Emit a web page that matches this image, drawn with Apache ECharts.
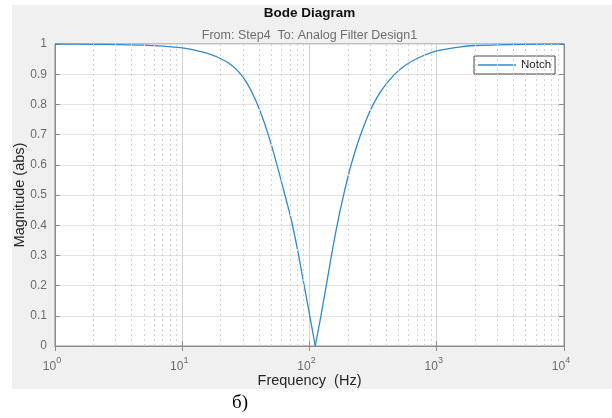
<!DOCTYPE html>
<html>
<head>
<meta charset="utf-8">
<script src="https://cdn.jsdelivr.net/npm/echarts@6/dist/echarts.min.js"></script>
<style>
html,body{margin:0;padding:0;background:#ffffff;}
#chart{width:612px;height:418px;}
</style>
</head>
<body>
<div id="chart"></div>
<script>
// ---- data ----
const freqHz = [1, 2, 3, 5, 7, 10, 13, 16, 20, 24, 28, 32, 37, 42, 47, 52, 58, 65, 71, 80, 89, 100, 111,
  123, 138, 154, 171, 185, 208, 228, 248, 278, 313, 370, 460, 560, 700, 1000, 1500, 2000, 3000, 5000, 10000];
const magnitude = [1.000, 0.999, 0.998, 0.996, 0.993, 0.987, 0.978, 0.968, 0.952, 0.932, 0.906, 0.873, 0.822,
  0.765, 0.705, 0.643, 0.570, 0.490, 0.428, 0.325, 0.220, 0.105, 0.000,
  0.100, 0.220, 0.335, 0.433, 0.499, 0.586, 0.644, 0.691, 0.747, 0.796, 0.848, 0.897, 0.928, 0.952,
  0.977, 0.990, 0.995, 0.997, 0.999, 1.000];
const minorFreqs = [2,3,4,5,6,7,8,9,20,30,40,50,60,70,80,90,200,300,400,500,600,700,800,900,2000,3000,4000,5000,6000,7000,8000,9000];
const seriesName = 'Notch';
const titleText = 'Bode Diagram';
const subtitleText = 'From: Step4  To: Analog Filter Design1';
const xName = 'Frequency  (Hz)';
const yName = 'Magnitude (abs)';
const captionText = 'б)';

const chart = echarts.init(document.getElementById('chart'), null, {renderer: 'canvas'});
const font = '"Liberation Sans", Arial, Helvetica, sans-serif';
const tickColor = '#6b6b6b';
const axisColor = '#8c8c8c';
const lineColor = '#3089cb';

// split the curve at the notch so each branch can be drawn smoothly
let notchIdx = 0;
magnitude.forEach(function (m, i) { if (m < magnitude[notchIdx]) notchIdx = i; });
const pairs = freqHz.map(function (f, i) { return [f, magnitude[i]]; });
const leftBranch = pairs.slice(0, notchIdx + 1);
const rightBranch = pairs.slice(notchIdx);

const option = {
  animation: false,
  backgroundColor: '#ffffff',
  graphic: [
    {type: 'rect', z: -100, shape: {x: 12, y: 5, width: 600, height: 384}, style: {fill: '#f0f0f0'}},
    {type: 'text', z: 10, x: 309.5, y: 13, style: {text: titleText, font: 'bold 13.5px ' + font, fill: '#111111', textAlign: 'center', textVerticalAlign: 'middle'}},
    {type: 'text', z: 10, x: 309.5, y: 36, style: {text: subtitleText, font: '12.5px ' + font, fill: '#6e6e6e', textAlign: 'center', textVerticalAlign: 'middle'}},
    {type: 'text', z: 10, x: 240, y: 403, style: {text: captionText, font: '19px "Liberation Serif", "Times New Roman", serif', fill: '#000000', textAlign: 'center', textVerticalAlign: 'middle'}}
  ],
  grid: {left: 55, right: 48, top: 44, bottom: 72, show: true, backgroundColor: '#ffffff', borderColor: axisColor, borderWidth: 1},
  legend: {
    data: [{name: seriesName, icon: 'rect'}],
    left: 474, top: 56,
    itemWidth: 38, itemHeight: 1.5, itemGap: 5,
    padding: [3, 4, 3, 4],
    backgroundColor: '#ffffff', borderColor: '#4a4a4a', borderWidth: 1, borderRadius: 0,
    textStyle: {fontFamily: font, fontSize: 11.5, color: '#222222'}
  },
  xAxis: [{
    type: 'log', logBase: 10, min: 1, max: 10000,
    name: xName, nameLocation: 'middle', nameGap: 27, nameMoveOverlap: false,
    nameTextStyle: {fontFamily: font, fontSize: 14.5, color: '#262626'},
    axisLine: {show: true, lineStyle: {color: axisColor}},
    axisTick: {show: true, inside: true, length: 5, lineStyle: {color: axisColor}},
    splitLine: {show: true, lineStyle: {color: '#d4d4d4', width: 1}},
    axisLabel: {
      margin: 7, color: tickColor, fontFamily: font,
      formatter: function (v) { return '{b|10}{s|' + Math.round(Math.log10(v)) + '}'; },
      rich: {
        b: {fontSize: 12, fontFamily: font, color: tickColor, lineHeight: 20, verticalAlign: 'bottom'},
        s: {fontSize: 9, fontFamily: font, color: tickColor, lineHeight: 12, verticalAlign: 'top', padding: [3, 6, 0, 0]}
      }
    }
  }, {
    type: 'log', logBase: 10, min: 1, max: 10000, position: 'top',
    axisLine: {show: true, lineStyle: {color: axisColor}},
    axisTick: {show: true, inside: true, length: 5, lineStyle: {color: axisColor}},
    axisLabel: {show: false}, splitLine: {show: false}
  }],
  yAxis: [{
    type: 'value', min: 0, max: 1, interval: 0.1,
    name: yName, nameLocation: 'middle', nameGap: 28, nameMoveOverlap: false,
    nameTextStyle: {fontFamily: font, fontSize: 14.5, color: '#262626'},
    axisLine: {show: true, lineStyle: {color: axisColor}},
    axisTick: {show: true, inside: true, length: 5, lineStyle: {color: axisColor}},
    splitLine: {show: true, lineStyle: {color: '#e3e3e3', width: 1}},
    axisLabel: {margin: 8, color: tickColor, fontFamily: font, fontSize: 12,
      formatter: function (v) { return String(+v.toFixed(1)); }}
  }, {
    type: 'value', min: 0, max: 1, interval: 0.1, position: 'right',
    axisLine: {show: true, lineStyle: {color: axisColor}},
    axisTick: {show: true, inside: true, length: 5, lineStyle: {color: axisColor}},
    axisLabel: {show: false}, splitLine: {show: false}
  }],
  series: [{
    name: 'minorGrid', type: 'line', data: [], z: 1, silent: true,
    markLine: {
      silent: true, symbol: ['none', 'none'], label: {show: false}, animation: false,
      lineStyle: {color: '#d3d3d3', type: [2, 3], width: 1},
      data: minorFreqs.map(function (f) { return {xAxis: f}; })
    }
  }, {
    name: seriesName, type: 'line', z: 3,
    showSymbol: false, symbol: 'none', smooth: 0.3,
    lineStyle: {color: lineColor, width: 1.3},
    itemStyle: {color: lineColor},
    data: leftBranch
  }, {
    name: seriesName, type: 'line', z: 3,
    showSymbol: false, symbol: 'none', smooth: 0.3,
    lineStyle: {color: lineColor, width: 1.3},
    itemStyle: {color: lineColor},
    data: rightBranch
  }]
};
chart.setOption(option);
</script>
</body>
</html>
